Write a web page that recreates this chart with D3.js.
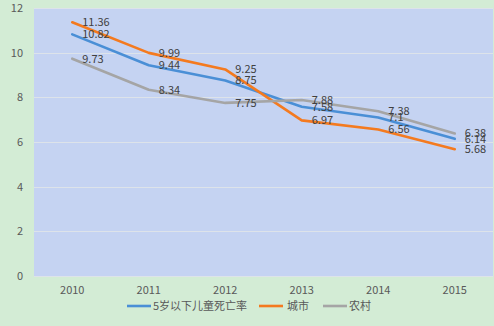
<!DOCTYPE html>
<html><head><meta charset="utf-8">
<script src="https://cdn.jsdelivr.net/npm/d3@7"></script>
<style>
html,body{margin:0;padding:0;background:#d3ecd5;}
svg{display:block;}
text{font-family:"Noto Sans CJK SC","DejaVu Sans",sans-serif;}
</style></head>
<body>
<svg id="chart" width="494" height="326"></svg>
<script>
const years = ["2010","2011","2012","2013","2014","2015"];
const seriesNames = ["5岁以下儿童死亡率","城市","农村"];
const totalRate = [10.82, 9.44, 8.75, 7.58, 7.1, 6.14];
const urbanRate = [11.36, 9.99, 9.25, 6.97, 6.56, 5.68];
const ruralRate = [9.73, 8.34, 7.75, 7.88, 7.38, 6.38];
const yTicks = [0, 2, 4, 6, 8, 10, 12];
const colors = ["#4a8fd6", "#f47a1f", "#a5a5a5"];

(function(){
const series = [totalRate, urbanRate, ruralRate];
const svg = d3.select("#chart");
const W = 494, H = 326;
const pLeft = 34, pRight = 493, pTop = 8, pBottom = 276;

svg.append("rect").attr("width", W).attr("height", H).attr("fill", "#d3ecd5");

const x = d3.scaleBand().domain(years).range([pLeft, pRight]);
const y = d3.scaleLinear().domain([0, 12]).range([pBottom, pTop]);

svg.append("rect").attr("x", pLeft).attr("y", pTop)
  .attr("width", pRight - pLeft).attr("height", pBottom - pTop).attr("fill", "#c5d3f2");

svg.append("g").selectAll("line").data(yTicks).join("line")
  .attr("x1", pLeft).attr("x2", pRight)
  .attr("y1", d => Math.round(y(d)) + 0.5).attr("y2", d => Math.round(y(d)) + 0.5)
  .attr("stroke", "#dde3ea").attr("stroke-width", 1);

const yAxis = d3.axisLeft(y).tickValues(yTicks).tickSize(0).tickPadding(11);
const gy = svg.append("g").attr("transform", `translate(${pLeft},0)`).call(yAxis);
gy.select(".domain").remove();
gy.selectAll("text").attr("fill", "#595959").style("font-size", "11px")
  .style("font-family", "'Noto Sans CJK SC', sans-serif");

const xAxis = d3.axisBottom(x).tickSize(0).tickPadding(10);
const gx = svg.append("g").attr("transform", `translate(0,${pBottom})`).call(xAxis);
gx.select(".domain").remove();
gx.selectAll("text").attr("fill", "#595959").style("font-size", "11px")
  .style("font-family", "'Noto Sans CJK SC', sans-serif");

const cx = d => x(d) + x.bandwidth() / 2;
const line = d3.line().x((d, i) => cx(years[i])).y(d => y(d));

series.forEach((s, k) => {
  svg.append("path").datum(s).attr("d", line)
    .attr("fill", "none").attr("stroke", colors[k]).attr("stroke-width", 2.6)
    .attr("stroke-linejoin", "round").attr("stroke-linecap", "round");
});
series.forEach((s, k) => {
  svg.append("g").selectAll("text").data(s).join("text")
    .attr("x", (d, i) => cx(years[i]) + 10)
    .attr("y", d => y(d))
    .attr("dy", "0.35em")
    .attr("fill", "#404040").style("font-size", "11px")
    .text(d => d);
});

const legendItems = [
  {x: 127, tx: 153},
  {x: 259, tx: 287},
  {x: 323, tx: 349}
];
seriesNames.forEach((n, k) => {
  const it = legendItems[k];
  svg.append("line").attr("x1", it.x).attr("x2", it.x + 24)
    .attr("y1", 306).attr("y2", 306).attr("stroke", colors[k]).attr("stroke-width", 2.6);
  svg.append("text").attr("x", it.tx).attr("y", 306).attr("dy", "0.35em")
    .attr("fill", "#595959").style("font-size", "11px").text(n);
});
})();
</script>
</body></html>
